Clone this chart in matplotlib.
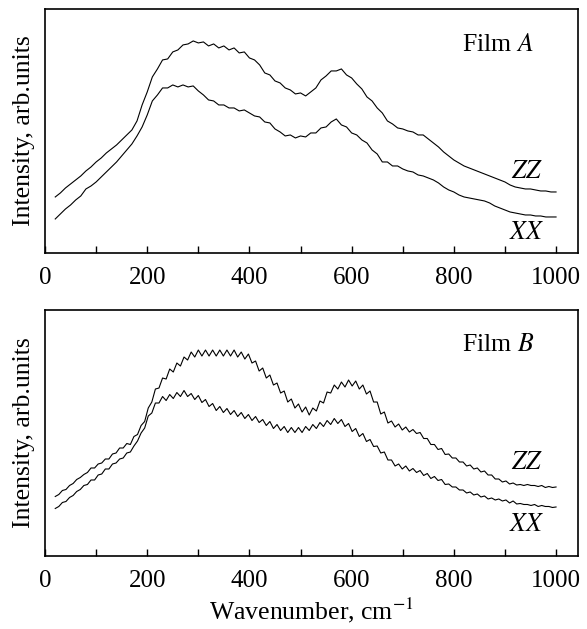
import numpy as np
import matplotlib
matplotlib.use("Agg")
import matplotlib.pyplot as plt
from matplotlib.ticker import MultipleLocator

plt.rcParams['font.family'] = ['Liberation Serif', 'DejaVu Serif']
plt.rcParams['mathtext.fontset'] = 'stix'

# Film A, sampled every 10 cm-1 from 20 to 1000
wn_a = np.arange(20, 1001, 10)
zz_a = [56, 60, 65, 69, 73, 77, 82, 86, 91, 95,
        100, 104, 108, 113, 118, 123, 132, 148, 161, 176,
        184, 193, 194, 201, 203, 208, 209, 212, 210, 211,
        207, 209, 205, 207, 203, 205, 200, 201, 195, 193,
        188, 180, 178, 172, 170, 165, 163, 159, 160, 157,
        161, 165, 173, 177, 182, 182, 184, 178, 175, 169,
        164, 156, 152, 145, 140, 132, 129, 125, 124, 122,
        121, 118, 118, 114, 110, 106, 101, 97, 93, 90,
        87, 85, 83, 81, 79, 77, 75, 73, 71, 68,
        66, 65, 64, 64, 63, 62, 62, 61, 61]
xx_a = [34, 39, 44, 48, 53, 57, 64, 67, 71, 76,
        81, 86, 91, 97, 103, 109, 117, 126, 138, 152,
        158, 165, 165, 168, 166, 168, 166, 167, 162, 158,
        153, 152, 148, 148, 145, 145, 142, 143, 140, 137,
        136, 131, 130, 124, 121, 117, 118, 115, 117, 116,
        120, 120, 125, 126, 131, 134, 128, 126, 120, 118,
        113, 110, 103, 99, 91, 91, 87, 87, 84, 82,
        81, 78, 77, 75, 73, 70, 66, 63, 61, 58,
        56, 55, 54, 53, 52, 50, 47, 45, 43, 41,
        40, 39, 38, 38, 37, 37, 36, 36, 36]

# Film B, sampled every 7 cm-1 from 20 to 1000
wn_b = np.arange(20, 1001, 7)
zz_b = [59.5, 61.5, 65.5, 66.5, 70.5, 72.5, 76.5, 78.5, 81.5, 83.5,
        88, 88, 92, 93, 97, 97, 102, 103, 108, 108,
        112.5, 111.5, 119.5, 121.5, 130.5, 134.5, 148, 154, 167, 168,
        178, 177, 187, 184, 193, 190, 199, 196, 204, 199,
        206, 200, 206, 200, 206, 200, 206, 200, 206, 200,
        206, 199, 204, 197, 202, 193, 195, 185, 188, 178,
        181, 171, 173, 163, 165, 154, 157, 148, 152, 144,
        149, 141, 148, 145, 155, 153, 164, 163, 171, 167,
        174, 169, 176, 170, 175, 167, 171, 162, 165, 154,
        154, 142, 144, 133, 135, 129, 132, 126, 129, 124,
        126.5, 122.5, 123.5, 117.5, 117.5, 111.5, 111.5, 106.5, 107.5, 101.5,
        102, 98, 98, 94, 94, 90, 91, 87, 88, 84,
        85, 81, 81, 77, 77, 74, 75, 72, 73, 71,
        71.5, 70.5, 71.5, 70.5, 70.5, 69.5, 70.5, 68.5, 69.5, 68.5,
        69]
xx_b = [47.5, 49.5, 53.5, 54.5, 58.5, 60.5, 64.5, 66.5, 70.5, 71.5,
        76, 76, 81, 82, 87, 87, 92, 93, 97, 98,
        103, 104, 110, 115, 123, 128, 140, 143, 153, 153,
        159.5, 155.5, 161.5, 157.5, 163.5, 159.5, 165.5, 159.5, 162.5, 156.5,
        160.5, 153.5, 156.5, 149.5, 152.5, 145.5, 149.5, 143.5, 147.5, 141.5,
        145.5, 139.5, 143.5, 137.5, 141.5, 135.5, 139.5, 133.5, 136.5, 130.5,
        134.5, 127.5, 131.5, 125.5, 129.5, 123.5, 128.5, 123.5, 128.5, 123.5,
        129.5, 125.5, 131.5, 127.5, 133.5, 129.5, 135.5, 131.5, 137.5, 132.5,
        136.5, 129.5, 132.5, 124.5, 127.5, 119.5, 122.5, 114.5, 116.5, 109.5,
        110, 103, 104, 96, 96, 90, 92, 87, 90, 85,
        87.5, 83.5, 85.5, 80.5, 82.5, 77.5, 79.5, 75.5, 76.5, 71.5,
        72, 69, 69, 66, 66, 63, 64, 61, 62, 59,
        60, 57, 58, 56, 57, 55, 56, 53, 55, 52,
        52.5, 51.5, 51.5, 50.5, 51.5, 49.5, 50.5, 49.5, 49.5, 48.5,
        49]

fig = plt.figure(figsize=(5.87, 6.29), dpi=100)
ax1 = fig.add_axes([0.0767, 0.5978, 0.908, 0.388])
ax2 = fig.add_axes([0.0767, 0.1161, 0.908, 0.391])

panels = [(ax1, wn_a, zz_a, xx_a, 'Film $\\mathit{A}$', 244, 81, 20, 208),
          (ax2, wn_b, zz_b, xx_b, 'Film $\\mathit{B}$', 246, 93, 31, 211)]

for ax, wn, zz, xx, title, ytop, yzz, yxx, ytitle in panels:
    ax.plot(wn, zz, color='black', lw=0.8)
    ax.plot(wn, xx, color='black', lw=0.8)
    ax.set_xlim(0, 1043)
    ax.set_ylim(0, ytop)
    ax.set_yticks([])
    ax.xaxis.set_major_locator(MultipleLocator(200))
    ax.xaxis.set_minor_locator(MultipleLocator(100))
    ax.tick_params(axis='x', which='both', direction='in', length=5,
                   width=1.0, labelsize=18, pad=10)
    for s in ax.spines.values():
        s.set_linewidth(1.2)
    ax.set_ylabel('Intensity, arb.units', fontsize=18.5, labelpad=7)
    ax.text(815, ytitle, title, fontsize=18.5, va='center', ha='left')
    ax.text(943, yzz, '$ZZ$', fontsize=18.5, va='center', ha='center')
    ax.text(943, yxx, '$XX$', fontsize=18.5, va='center', ha='center')

ax2.set_xlabel('Wavenumber, cm$^{-1}$', fontsize=18.5, labelpad=3)

fig.savefig('out.png', dpi=100)
